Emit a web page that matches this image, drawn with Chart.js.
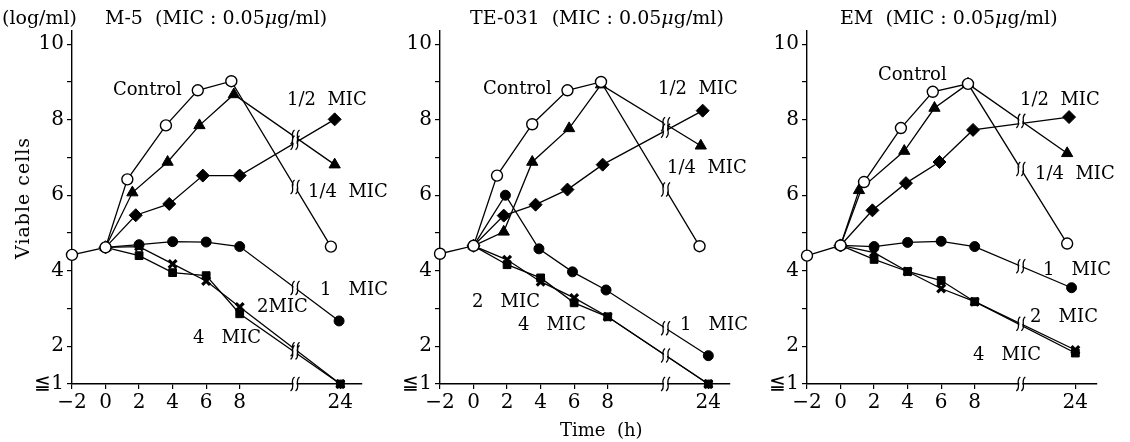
<!DOCTYPE html>
<html>
<head>
<meta charset="utf-8">
<script src="https://cdn.jsdelivr.net/npm/chart.js@4.4.1/dist/chart.umd.min.js"></script>
<style>
  body { margin: 0; background: #fff; }
  #wrap { position: relative; width: 1130px; height: 442px; overflow: hidden; background: #fff;
          font-family: 'DejaVu Serif', 'Liberation Serif', serif; color: #000; }
  canvas { position: absolute; top: 0; }
  .lbl { position: absolute; white-space: pre; font-size: 18px; line-height: 1; transform: translateY(-50%); }
  .ttl { font-size: 19px; }
  .ylab { position: absolute; left: 22px; top: 198px; font-size: 19px; white-space: pre;
          transform: translate(-50%, -50%) rotate(-90deg); letter-spacing: 1px; }
</style>
</head>
<body>
<div id="wrap">
  <canvas id="m5" width="370" height="442" style="left:0"></canvas>
  <canvas id="te" width="370" height="442" style="left:368px"></canvas>
  <canvas id="em" width="370" height="442" style="left:735px"></canvas>

  <div class="lbl ttl" style="left:2px;top:17px">(log/ml)</div>
  <div class="ylab">Viable cells</div>

  <!-- M-5 -->
  <div class="lbl ttl" style="left:105px;top:17px">M-5  (MIC : 0.05<i>μ</i>g/ml)</div>
  <div class="lbl" style="left:113px;top:89px">Control</div>
  <div class="lbl" style="left:287px;top:99px">1/2  MIC</div>
  <div class="lbl" style="left:308px;top:191px">1/4  MIC</div>
  <div class="lbl" style="left:320px;top:289px">1   MIC</div>
  <div class="lbl" style="left:257px;top:306px">2MIC</div>
  <div class="lbl" style="left:193px;top:337px">4   MIC</div>

  <!-- TE-031 -->
  <div class="lbl ttl" style="left:470px;top:17px">TE-031  (MIC : 0.05<i>μ</i>g/ml)</div>
  <div class="lbl" style="left:483px;top:88px">Control</div>
  <div class="lbl" style="left:658px;top:88px">1/2  MIC</div>
  <div class="lbl" style="left:667px;top:167px">1/4  MIC</div>
  <div class="lbl" style="left:472px;top:301px">2   MIC</div>
  <div class="lbl" style="left:518px;top:324px">4   MIC</div>
  <div class="lbl" style="left:680px;top:324px">1   MIC</div>
  <div class="lbl" style="left:560px;top:430px">Time  (h)</div>

  <!-- EM -->
  <div class="lbl ttl" style="left:840px;top:17px">EM  (MIC : 0.05<i>μ</i>g/ml)</div>
  <div class="lbl" style="left:878px;top:74px">Control</div>
  <div class="lbl" style="left:1020px;top:99px">1/2  MIC</div>
  <div class="lbl" style="left:1035px;top:173px">1/4  MIC</div>
  <div class="lbl" style="left:1043px;top:269px">1   MIC</div>
  <div class="lbl" style="left:1030px;top:316px">2   MIC</div>
  <div class="lbl" style="left:973px;top:354px">4   MIC</div>
</div>

<script>
// time (h), log viable cells/ml
const xTicks = [-2, 0, 2, 4, 6, 8, 24];
const xTickLabels = ['\u22122', '0', '2', '4', '6', '8', '24'];
const yTicks = [1, 2, 3, 4, 5, 6, 7, 8, 9, 10];
const yTickLabels = ['\u22661', '2', '', '4', '', '6', '', '8', '', '10'];

// M-5
const m5Control = [[-2, 4.42], [0, 4.62], [1.3, 6.42], [3.6, 7.85], [5.5, 8.78], [7.5, 9.02], [22.5, 4.64]];
const m5Quarter = [[0, 4.62], [1.6, 6.07], [3.7, 6.88], [5.6, 7.85], [7.65, 8.67], [23.1, 6.81]];
const m5Half = [[0, 4.62], [1.8, 5.47], [3.8, 5.77], [5.8, 6.52], [8.0, 6.52], [23.1, 8.01]];
const m5Mic1 = [[0, 4.62], [2, 4.69], [4, 4.77], [6, 4.76], [8, 4.64], [23.8, 2.67]];
const m5Mic2 = [[0, 4.62], [2, 4.64], [4, 4.18], [6, 3.73], [8, 3.04], [24, 1.0]];
const m5Mic4 = [[0, 4.62], [2, 4.4], [4, 3.95], [6, 3.87], [8, 2.86], [24, 1.0]];

// TE-031
const teControl = [[-2, 4.45], [0, 4.66], [1.4, 6.52], [3.5, 7.88], [5.6, 8.78], [7.6, 9.0], [22.6, 4.65]];
const teQuarter = [[0, 4.66], [1.8, 5.03], [3.5, 6.88], [5.7, 7.77], [7.6, 8.93], [22.8, 7.31]];
const teHalf = [[0, 4.66], [1.8, 5.46], [3.7, 5.75], [5.6, 6.15], [7.7, 6.81], [23.1, 8.24]];
const teMic1 = [[0, 4.66], [1.9, 6.0], [3.9, 4.58], [5.9, 3.97], [7.9, 3.49], [24, 1.75]];
const teMic2 = [[0, 4.66], [2, 4.29], [4, 3.71], [6, 3.28], [8, 2.78], [24, 1.0]];
const teMic4 = [[0, 4.66], [2, 4.16], [4, 3.81], [6, 3.15], [8, 2.78], [24, 1.0]];

// EM
const emControl = [[-2, 4.4], [0, 4.67], [1.4, 6.35], [3.6, 7.78], [5.5, 8.74], [7.6, 8.95], [22.7, 4.72]];
const emQuarter = [[0, 4.67], [1.1, 6.13], [3.8, 7.17], [5.6, 8.31], [7.6, 8.95], [22.7, 7.11]];
const emHalf = [[0, 4.67], [1.9, 5.6], [3.9, 6.32], [5.9, 6.88], [7.9, 7.73], [23.0, 8.07]];
const emMic1 = [[0, 4.67], [2, 4.64], [4, 4.75], [6, 4.78], [8, 4.64], [23.4, 3.55]];
const emMic2 = [[0, 4.67], [2, 4.48], [4, 3.98], [6, 3.53], [8, 3.18], [24, 1.9]];
const emMic4 = [[0, 4.67], [2, 4.3], [4, 3.98], [6, 3.74], [8, 3.18], [24, 1.82]];

const FONT = "'DejaVu Serif', 'Liberation Serif', serif";

// axis is broken after 8 h: 8..24 h squeezed into 6 units
function toAxis(t) {
    return t <= 8 ? t : 8 + (t - 8) * 6 / 16;
}

function drawBreak(ctx, x, y) {
    ctx.save();
    ctx.fillStyle = '#fff';
    ctx.fillRect(x - 1.5, y - 5, 3, 10);
    ctx.strokeStyle = '#000';
    ctx.lineWidth = 1.3;
    for (const dx of [-2.5, 2.5]) {
        ctx.beginPath();
        ctx.moveTo(x + dx - 2, y + 7);
        ctx.bezierCurveTo(x + dx + 3.5, y + 3, x + dx - 3.5, y - 3, x + dx + 2, y - 7);
        ctx.stroke();
    }
    ctx.restore();
}

const breakPlugin = {
    id: 'axisBreak',
    afterDatasetsDraw(chart, args, opts) {
        const xs = chart.scales.x, ys = chart.scales.y;
        const bx = xs.getPixelForValue(opts.at);
        const done = [];
        chart.data.datasets.forEach(ds => {
            const pts = ds.data;
            for (let i = 1; i < pts.length; i++) {
                const a = pts[i - 1], b = pts[i];
                if (a.x < opts.at && b.x > opts.at) {
                    const f = (opts.at - a.x) / (b.x - a.x);
                    const y = ys.getPixelForValue(a.y + f * (b.y - a.y));
                    if (!done.some(d => Math.abs(d - y) < 3)) {
                        done.push(y);
                        drawBreak(chart.ctx, bx, y);
                    }
                }
            }
        });
        drawBreak(chart.ctx, bx, ys.bottom);
    }
};

function series(points, style) {
    return Object.assign({
        data: points.map(p => ({ x: toAxis(p[0]), y: p[1] })),
        showLine: true,
        borderColor: '#000',
        borderWidth: 1.3,
        pointBorderColor: '#000',
        pointBackgroundColor: '#000',
        pointBorderWidth: 1,
        tension: 0,
        clip: false
    }, style);
}

function makeChart(id, data, breakAt, padRight) {
    const [control, quarter, half, mic1, mic2, mic4] = data;
    new Chart(document.getElementById(id), {
        type: 'scatter',
        data: {
            datasets: [
                series(control, { pointStyle: 'circle', pointRadius: 5.5, pointBackgroundColor: '#fff', pointBorderWidth: 1.4 }),
                series(quarter, { pointStyle: 'triangle', pointRadius: 6.5 }),
                series(half, { pointStyle: 'rectRot', pointRadius: 6.5 }),
                series(mic1, { pointStyle: 'circle', pointRadius: 5 }),
                series(mic2, { pointStyle: 'crossRot', pointRadius: 5.5, pointBorderWidth: 3.2 }),
                series(mic4, { pointStyle: 'rect', pointRadius: 5.5 })
            ]
        },
        options: {
            responsive: false,
            animation: false,
            devicePixelRatio: 1,
            layout: { padding: { top: 31, right: padRight, left: 0, bottom: 0 } },
            plugins: {
                legend: { display: false },
                tooltip: { enabled: false },
                axisBreak: { at: breakAt }
            },
            scales: {
                x: {
                    type: 'linear',
                    min: -2,
                    max: 15.25,
                    afterBuildTicks: s => { s.ticks = xTicks.map(t => ({ value: toAxis(t) })); },
                    afterFit: s => { s.height = 58; },
                    ticks: {
                        autoSkip: false,
                        maxRotation: 0,
                        padding: 2,
                        color: '#000',
                        font: { family: FONT, size: 20 },
                        callback: v => {
                            const i = xTicks.findIndex(t => Math.abs(toAxis(t) - v) < 1e-6);
                            return i >= 0 ? xTickLabels[i] : '';
                        }
                    },
                    grid: { drawOnChartArea: false, drawTicks: true, tickLength: 5, color: '#000', lineWidth: 1.2 },
                    border: { color: '#000', width: 1.4 }
                },
                y: {
                    min: 1,
                    max: 10.35,
                    afterBuildTicks: s => { s.ticks = yTicks.map(v => ({ value: v })); },
                    afterFit: s => { s.width = 72; },
                    ticks: {
                        padding: 3,
                        color: '#000',
                        font: { family: FONT, size: 20 },
                        callback: v => {
                            const i = yTicks.indexOf(v);
                            return i >= 0 ? yTickLabels[i] : '';
                        }
                    },
                    grid: { drawOnChartArea: false, drawTicks: true, tickLength: 5, color: '#000', lineWidth: 1.2 },
                    border: { color: '#000', width: 1.4 }
                }
            }
        },
        plugins: [breakPlugin]
    });
}

makeChart('m5', [m5Control, m5Quarter, m5Half, m5Mic1, m5Mic2, m5Mic4], 11.3, 7);
makeChart('te', [teControl, teQuarter, teHalf, teMic1, teMic2, teMic4], 11.45, 6);
makeChart('em', [emControl, emQuarter, emHalf, emMic1, emMic2, emMic4], 10.75, 8);
</script>
</body>
</html>
